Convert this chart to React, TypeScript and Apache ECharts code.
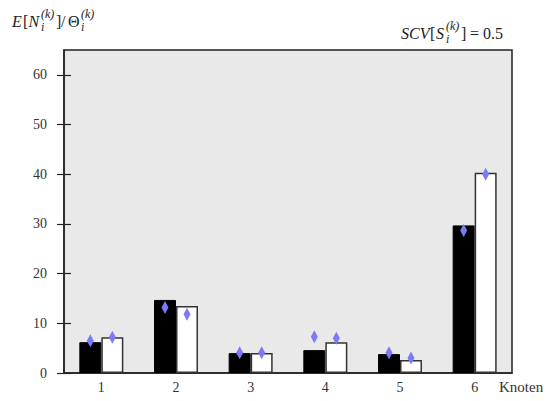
import React, { useEffect, useRef } from "react";
import * as echarts from "echarts";

const categories = ["1", "2", "3", "4", "5", "6"];
const blackBars = [6.2, 14.7, 4.0, 4.6, 3.8, 29.7];
const whiteBars = [7.2, 13.5, 4.0, 6.2, 2.6, 40.3];
const blackDiamonds = [6.5, 13.2, 4.1, 7.3, 4.1, 28.7];
const whiteDiamonds = [7.2, 11.8, 4.1, 7.0, 3.0, 40.0];
const yTicks = [0, 10, 20, 30, 40, 50, 60];

const SERIF = "Liberation Serif, Times New Roman, serif";
const DIAMOND = "#7b7bf5";

function frag(text: string, x: number, y: number, size: number, italic: boolean) {
  return {
    type: "text",
    x,
    y,
    style: {
      text,
      fill: "#222",
      fontFamily: SERIF,
      fontSize: size,
      fontStyle: italic ? "italic" : "normal",
      verticalAlign: "middle",
      align: "left",
    },
  };
}

export default function App() {
  const ref = useRef<HTMLDivElement>(null);
  useEffect(() => {
    document.body.style.margin = "0";
    if (!ref.current) return;
    const chart = echarts.init(ref.current, undefined, { renderer: "svg" });
    const markData = (vals: number[]) =>
      vals.map((v, i) => ({ coord: [categories[i], v], value: v }));
    chart.setOption({
      animation: false,
      backgroundColor: "#ffffff",
      textStyle: { fontFamily: SERIF },
      grid: {
        left: 64,
        right: 36,
        top: 50,
        bottom: 28,
        show: true,
        backgroundColor: "#e9e9e9",
        borderColor: "#222",
        borderWidth: 1.5,
      },
      xAxis: {
        type: "category",
        data: categories,
        boundaryGap: true,
        axisLine: { show: true, lineStyle: { color: "#222", width: 1.5 } },
        axisTick: { show: false },
        axisLabel: {
          color: "#333",
          fontFamily: SERIF,
          fontSize: 14,
          margin: 7,
        },
      },
      yAxis: [
        {
          type: "value",
          min: 0,
          max: 65,
          interval: 10,
          splitLine: { show: false },
          axisLine: { show: true, lineStyle: { color: "#222", width: 1.5 } },
          axisTick: {
            show: true,
            length: 7,
            customValues: yTicks,
            lineStyle: { color: "#222", width: 1.2 },
          },
          axisLabel: {
            color: "#333",
            fontFamily: SERIF,
            fontSize: 14,
            margin: 17,
            customValues: yTicks,
          },
        },
        {
          type: "value",
          position: "left",
          min: 0,
          max: 65,
          interval: 10,
          splitLine: { show: false },
          axisLine: { show: false },
          axisTick: {
            show: true,
            inside: true,
            length: 7,
            customValues: yTicks,
            lineStyle: { color: "#222", width: 1.2 },
          },
          axisLabel: { show: false },
        },
      ],
      series: [
        {
          type: "bar",
          data: blackBars,
          barWidth: 22,
          barGap: "0%",
          itemStyle: { color: "#000", borderColor: "#000", borderWidth: 1 },
          markPoint: {
            symbol: "diamond",
            symbolSize: [7, 13],
            label: { show: false },
            itemStyle: { color: DIAMOND },
            data: markData(blackDiamonds),
          },
        },
        {
          type: "bar",
          data: whiteBars,
          barWidth: 22,
          barGap: "0%",
          itemStyle: { color: "#fff", borderColor: "#333", borderWidth: 1.5 },
          markPoint: {
            symbol: "diamond",
            symbolSize: [7, 13],
            label: { show: false },
            itemStyle: { color: DIAMOND },
            data: markData(whiteDiamonds),
          },
        },
      ],
      graphic: [
        frag("E", 12, 21, 16, true),
        frag("[", 23, 21, 16, false),
        frag("N", 28.5, 21, 16, true),
        frag("(k)", 41, 14, 12, true),
        frag("i", 41, 27, 12, true),
        frag("]", 56, 21, 16, false),
        frag("/", 61, 21, 16, false),
        frag("Θ", 68, 21, 16, false),
        frag("(k)", 81, 14, 12, true),
        frag("i", 81, 27, 12, true),
        frag("SCV", 401, 33, 16, true),
        frag("[", 430, 33, 16, false),
        frag("S", 436, 33, 16, true),
        frag("(k)", 446, 26, 12, true),
        frag("i", 446, 39, 12, true),
        frag("]", 461, 33, 16, false),
        frag("=", 470, 33, 16, false),
        frag("0.5", 483, 33, 16, false),
        {
          type: "text",
          x: 499,
          y: 387,
          style: {
            text: "Knoten",
            fill: "#333",
            fontFamily: SERIF,
            fontSize: 15,
            verticalAlign: "middle",
            align: "left",
          },
        },
      ],
    });
    return () => chart.dispose();
  }, []);
  return <div ref={ref} style={{ width: 548, height: 401 }} />;
}
